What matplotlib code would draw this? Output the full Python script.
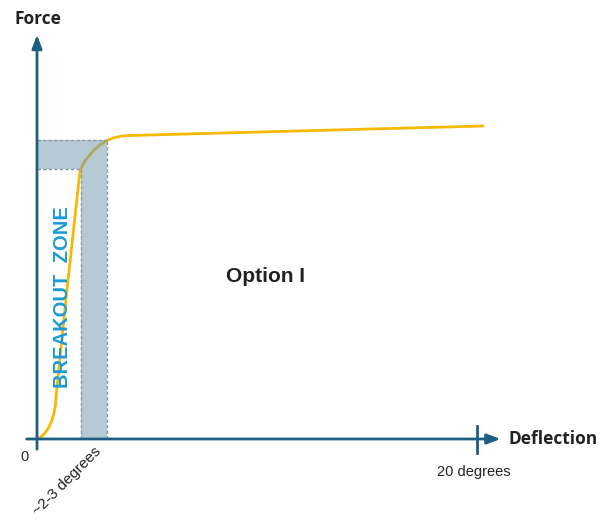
import matplotlib
matplotlib.use("Agg")
from matplotlib import pyplot as plt
from matplotlib.patches import Polygon

# force-deflection curve (deflection in degrees, force in arbitrary units)
deflection = [0.0, 0.18, 0.36, 0.55, 0.68, 0.77, 0.84, 0.86, 1.36, 1.95,
              2.05, 2.18, 2.36, 2.59, 2.86, 3.14, 3.45, 3.86, 4.23, 20.27]
force = [0, 2, 6, 12, 19, 26, 34, 41, 149, 267,
         273, 278, 283, 289, 294, 298, 301, 303, 303.5, 313]

# breakout zone limits
zone_x = [2.0, 3.18]
zone_y = [270, 299]

x_max = 20
axis_color = "#1d5f82"
curve_color = "#f7b900"
zone_color = "#6d96ad"
edge_color = "#8a98a0"

fig = plt.figure(figsize=(6.1, 5.2), dpi=100)
ax = fig.add_axes([0, 0, 1, 1])
ax.set_xlim(-37 / 22, 573 / 22)
ax.set_ylim(-81, 439)
ax.axis("off")

ax.plot(deflection, force, color=curve_color, lw=2, solid_capstyle="round", zorder=2)

# L-shaped breakout zone, drawn over the curve
zone = Polygon([(zone_x[0], 0), (zone_x[1], 0), (zone_x[1], zone_y[1]),
                (0, zone_y[1]), (0, zone_y[0]), (zone_x[0], zone_y[0])],
               closed=True, facecolor=zone_color, alpha=0.5, edgecolor="none", zorder=3)
ax.add_patch(zone)
dash = dict(color=edge_color, lw=1, ls=(0, (2.5, 1.5)), zorder=4)
ax.plot([0, zone_x[1]], [zone_y[1], zone_y[1]], **dash)
ax.plot([0, zone_x[0]], [zone_y[0], zone_y[0]], **dash)
ax.plot([zone_x[1], zone_x[1]], [0, zone_y[1]], **dash)
ax.plot([zone_x[0], zone_x[0]], [0, zone_y[0]], **dash)

# axes with arrows
arrow = dict(arrowstyle="-|>,head_length=0.8,head_width=0.3", color=axis_color, lw=2)
ax.annotate("", xy=(0, 407), xytext=(0, -13), arrowprops=arrow, zorder=5)
ax.annotate("", xy=(21.2, 0), xytext=(-0.6, 0), arrowprops=arrow, zorder=5)
ax.plot([x_max, x_max], [-14, 13], color=axis_color, lw=2, zorder=5)

ax.text(0.05, 420, "Force", fontsize=12.5, fontweight="bold", color="#222222",
        family="Open Sans", ha="center", va="center")
ax.text(21.45, 0, "Deflection", fontsize=12.5, fontweight="bold", color="#222222",
        family="Open Sans", ha="left", va="center")
ax.text(-0.55, -18, "0", fontsize=10.5, color="#222222", family="Liberation Sans",
        ha="center", va="center")
ax.text(x_max - 0.15, -33, "20 degrees", fontsize=10.5, color="#222222",
        family="Liberation Sans", ha="center", va="center")
ax.text(2.6, -5, "~2-3 degrees", fontsize=11, color="#222222", family="Liberation Sans",
        rotation=45, rotation_mode="anchor", ha="right", va="top")
ax.text(10.4, 163, "Option I", fontsize=15, fontweight="bold", color="#222222",
        family="Liberation Sans", ha="center", va="center")
ax.text(1.14, 142, "BREAKOUT  ZONE", fontsize=14.5, fontweight="bold", color="#1b9bd7",
        family="Liberation Sans", rotation=90, ha="center", va="center", zorder=6)

fig.savefig("out.png", dpi=100)
